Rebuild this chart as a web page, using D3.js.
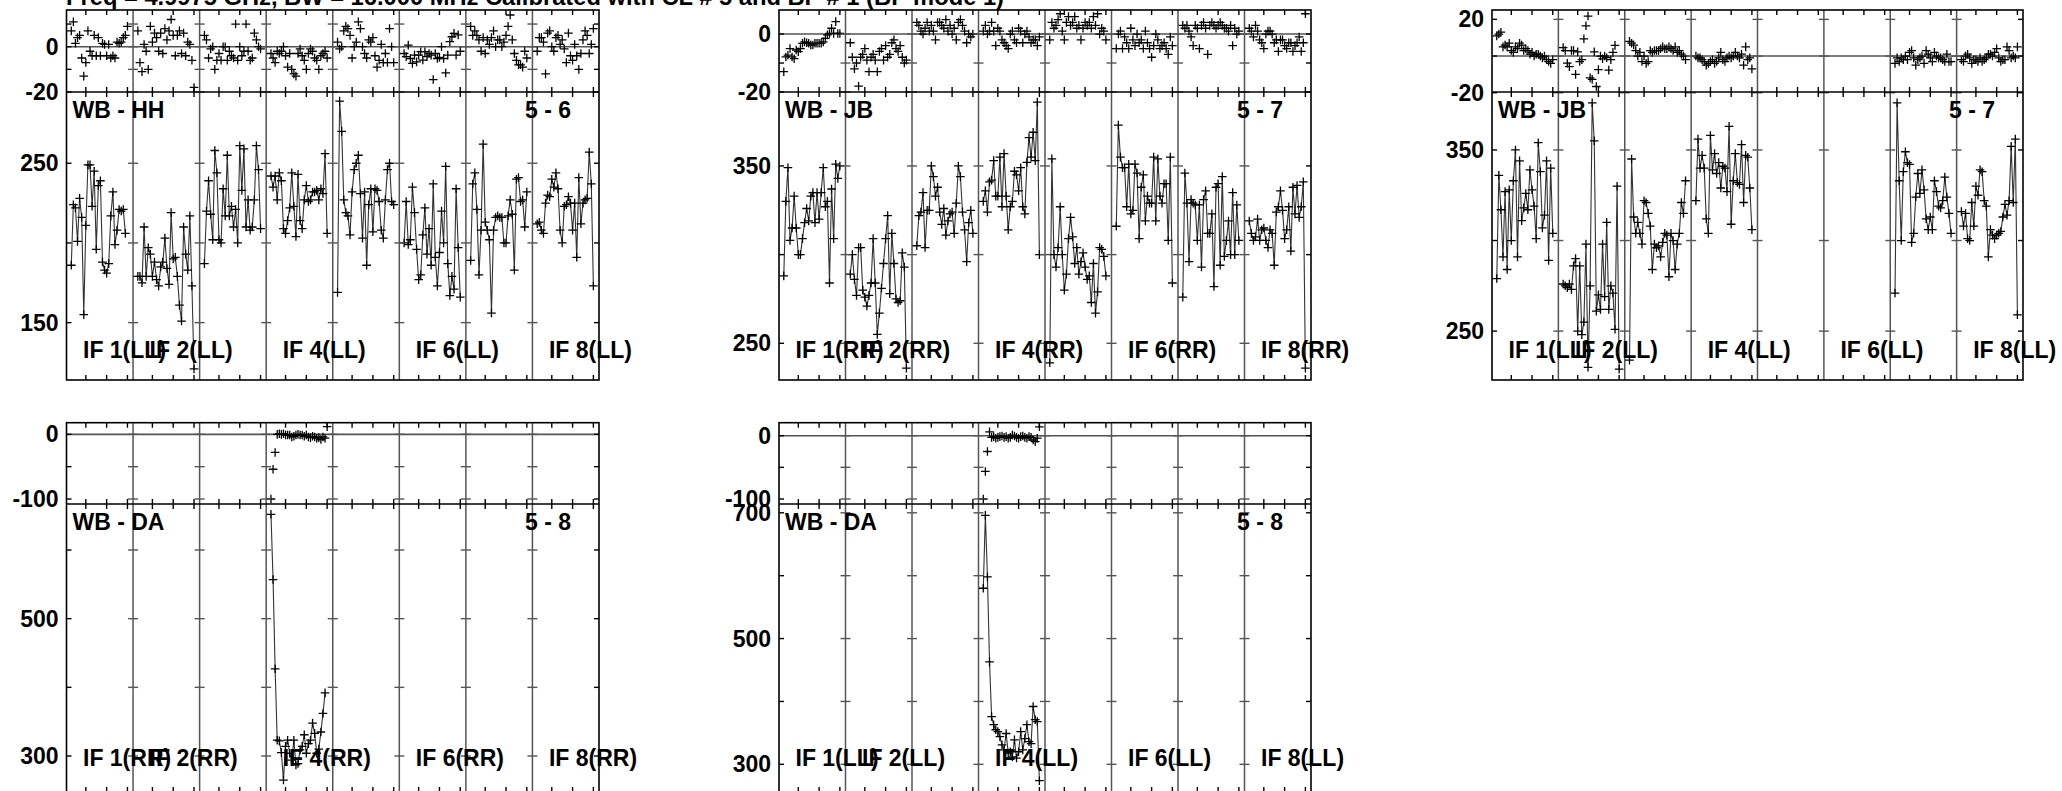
<!DOCTYPE html>
<html><head><meta charset="utf-8">
<script src="https://cdn.jsdelivr.net/npm/d3@7"></script>
<style>html,body{margin:0;padding:0;background:#fff;overflow:hidden}</style>
</head><body>
<script>
// ---------------- DATA ----------------
const titleText = "Freq = 4.9975 GHz, BW = 16.000 MHz   Calibrated with CL # 5 and BP # 1 (BP mode 1)";
const labeledIFs = [1, 2, 4, 6, 8];
const firstChannel = 3;
const channelTicks = [10, 20, 30];

// Panel WB - HH, 5 - 6 (LL)
const ampHH_LL = [
 [186,224,222,201,228,216,155,211,249,249,223,245,196,236,239,188,183,181,187,217,232,199,208,221,220,221,206],
 [179,179,175,210,179,197,193,179,188,177,173,185,188,203,184,174,219,190,191,179,161,151,210,193,183,217,173,121],
 [187,220,239,218,202,258,244,202,200,234,217,255,217,223,210,221,200,261,233,259,210,227,208,210,227,261,246,209],
 [242,235,242,227,244,239,209,206,214,222,244,223,204,243,214,209,227,236,226,227,232,232,233,227,234,231,256,206],
 [169,289,270,227,219,217,205,232,246,250,255,231,203,232,186,224,234,207,234,233,226,208,203,227,246,250,226,224],
 [200,226,199,202,235,219,196,177,180,205,222,193,209,186,237,191,173,194,220,200,248,187,167,179,171,234,197,166],
 [189,237,244,221,180,208,262,213,208,202,156,208,216,217,216,216,200,200,217,227,218,183,240,241,226,227,210,232],
 [212,213,208,206,225,230,229,240,235,244,234,208,200,223,224,229,225,208,225,191,241,212,225,227,228,257,237,173]
];
const phaseHH_LL = [
 [7,11,1.5,4,5,-5,-13,-7,7,-2,-4,5,-4,4,-4,1.5,1,-4,1,-5,-4,-5,2,1.5,2,4,5,9],
 [7,-7,-11,1,-2,-10,9,2,6,4,-2,6,-3,8,3,7,12,5,-4,5,7,-3,6,-4,2,1,-6,-18],
 [5,3,-5,-1,0,-10,-6,-3,-6,0,0,-6,-2,-4,-5,10,-6,0,-4,-2,10,-2,-6,-5,6,3,0,-1],
 [-3,-5,-7,-2,-3,-2,0,-4,-9,-3,-10,-12,-13,-3,-1,-4,-6,-10,-3,-1,-2,-5,-6,-10,-4,-3,-2,-5],
 [2,-1,0,7,9,8,5,-5,0,2,11,8,0,-3,-5,3,2,4,-4,-9,-6,1,-7,-3,-7,8,0,-7],
 [-3,-4.4,0.7,-5.2,-7.4,-3.7,-6.7,-3.7,-2.2,-5.9,-2.2,-4.4,-3,-3.7,-14.5,-3,-5.2,-4.7,0,-5.2,-11.6,-3.7,2.2,4.4,5.9,-3.7,5.2,-2],
 [9,5,7,5,3,-2,4,-3,3,1,4,7,0,3,3,0,2,5,9,14,3,-3,-6,-8,-8,-9,-2,-5],
 [-2,4,4,2,-12,6,7,0,-2,4,5,1,3,-1,-7,6,-4,-6,1,-4,-10,-3,3,7,5,-3,1,8]
];

// Panel WB - JB, 5 - 7 (RR)
const ampJB_RR = [
 [288,330,349,308,315,333,315,300,300,309,318,326,319,333,335,318,335,320,335,349,327,330,284,337,309,351,343,350],
 [289,300,286,277,304,304,280,276,271,277,284,309,284,255,267,281,295,309,322,278,312,295,275,273,274,301,293,236],
 [305,322,324,335,304,325,325,350,344,333,338,324,317,326,311,319,323,324,312,329,350,344,324,314,296,318,325,312],
 [330,336,324,341,342,353,333,333,355,327,357,333,314,327,330,347,345,336,349,327,323,352,366,355,369,353,386,300],
 [239,354,300,293,304,327,300,280,289,309,321,310,295,304,289,296,301,293,286,288,273,295,267,279,304,303,299,288],
 [316,373,355,349,349,327,351,323,325,351,346,309,338,345,319,333,329,329,355,319,354,333,329,340,340,308,355,284],
 [276,346,329,296,331,329,328,308,328,293,331,336,312,312,323,282,338,340,294,344,299,308,319,300,335,300,328,308],
 [319,312,308,310,320,308,314,315,308,304,314,312,294,324,327,336,325,309,314,327,302,338,323,339,321,327,341,236]
];
const phaseJB_RR = [
 [-13,-7.9,-7.3,-5,-7.9,-8.5,-5.5,-6.1,-5,-3.2,-2.7,-3,-3.2,-3.8,-3.8,-3.2,-3.2,-3.2,-3.2,-2.7,-1.5,-0.3,0.2,2,0.2,4.3,0.2,0.2],
 [-3,-8,-12,-10,-18,-8,-7,-5,-9,-13,-8,-7,-9,-13,-6,-5,-9,-4,-8,-7,-3,-2,-5,-6,-4,-8,-10,-9],
 [4,3,1,0,2,4,1,3,1,-2,4,4,3,2,5,1,3,0,2,-2,4,5,3,1,-3,0,-1,0],
 [1,3,0,1,4,1,-4,2,1,-2,-3,-4,-5,0,1,-2,-3,2,1,-3,0,1,-1,-3,-2,-2,-4,-1],
 [-2,4,2,3,5,7,1,-2,4,6,3,4,6,2,3,-2,2,4,3,4,2,6,3,7,0,2,1,-2],
 [-5,0,1,-5,-1,-3,-5,2,-2,-4,0,-3,-2,-5,1,-3,-5,-8,-4,0,-2,-5,-4,-3,-5,-7,-1,-4],
 [3,2,3,1,-1,-4,3,2,-5,3,4,2,-7,3,4,3,2,3,4,3,2,2,1,3,-4,2,0,1],
 [2,1,-1,3,1,-2,-3,-5,0,1,1,0,-3,-2,-6,-2,-2,-4,-5,-3,-3,-6,-4,-3,-1,-6,-3,7]
];

// Panel WB - JB, 5 - 7 (LL)
const ampJB_LL = [
 [279,336,317,291,327,284,328,300,333,350,291,344,311,318,326,317,339,328,319,301,354,338,307,314,344,289,340,304],
 [276,275,274,276,273,286,290,250,286,248,255,298,230,275,376,355,261,270,262,298,269,310,262,275,271,251,330,229],
 [234,345,313,304,310,304,298,322,321,315,308,284,298,296,297,291,299,304,303,280,304,300,284,298,304,321,315,333],
 [322,356,340,347,340,312,304,358,339,348,337,343,329,341,340,327,363,309,333,348,332,331,353,321,347,346,329,306],
 [],
 [],
 [271,376,333,300,338,349,343,342,299,304,324,337,326,339,328,312,306,313,306,333,327,319,318,322,335,324,315,304],
 [316,308,315,301,300,321,308,330,325,339,338,322,319,291,306,303,301,303,304,305,313,320,314,322,352,321,356,259]
];
const phaseJB_LL = [
 [11,12,13,5,6,5,7,3,2,5,4,7,6,3,4,3,1,2,0,1,1,0,-1,0,-2,-3,-4,-2],
 [4.6,3,-3.9,-5.8,3,3,-10,2.3,-3,-2,9.4,16.5,21.8,-11.9,-12.7,2.3,-16.6,-7.4,0,-1.5,0,-0.9,-7.7,-2,2,5.8],
 [8,7,6,3,0,2,-3,0,-4,-3,3,2,3,3,3,4,5,4,4,5,4,3,5,2,3,1,0,-2],
 [0,-1,-1,-2,-3,-5,-4,-3,-2,-4,-3,-1,2,-2,-3,-1,0,-1,0,2,0,-1,1,-5,5,-2,-1,-7],
 [],
 [],
 [-4,-1,-3,-1,-2,0,-2,2,3,-1,-5,-2,-1,0,-4,3,1,-1,-3,2,0,-1,-1,-2,-3,1,-3,-3],
 [-2,-3,0,1,-1,-4,-2,-2,-3,-1,-3,-2,-1,1,1,0,2,4,-1,-3,-2,-2,5,3,-1,0,-1,5]
];

// Panel WB - DA, 5 - 8 (RR) and (LL)
const ampDA_RR = [[],[],[],
 [652,557,427,323,322,305,265,314,323,304,294,323,287,289,309,314,331,304,318,323,348,333,304,310,335,362,392],
 [],[],[],[]];
const phaseDA_RR = [[],[],[],
 [-100,-54,-28,0,1,0,1,-1,-1,-1,-4,-3,-1,0,-1,-1,-3,-1,-4,-5,-3,-4,-6,-5,-8,-4,-6,12],
 [],[],[],[]];
const ampDA_LL = [[],[],[],
 [580,696,598,463,376,363,355,352,344,331,323,349,318,320,312,339,310,320,352,323,341,363,336,333,392,371,368,274],
 [],[],[],[]];
const phaseDA_LL = [[],[],[],
 [-100,-56.5,-25,6,-2.6,-1.5,-4,-2.6,-1.5,-0.5,-2.6,-1.5,-4,-2.6,1,-0.5,-2.6,-4,-1.5,-0.5,-2.6,-4,-1.5,-2.6,-6.8,-9.4,-4,14],
 [],[],[],[]];

// axis tick values and labels
const phaseTicksHH = [-20,-10,0,10], phaseLabelsHH = [0,-20];
const ampTicksHH = [150,200,250], ampLabelsHH = [250,150];
const phaseTicksJBR = [-20,-10,0], phaseLabelsJBR = [0,-20];
const ampTicksJBR = [250,300,350], ampLabelsJBR = [350,250];
const phaseTicksJBL = [-20,0,20], phaseLabelsJBL = [20,-20];
const ampTicksJBL = [250,300,350], ampLabelsJBL = [350,250];
const phaseTicksDA = [-100,-50,0], phaseLabelsDA = [0,-100];
const ampTicksDAR = [300,400,500,600], ampLabelsDAR = [500,300];
const ampTicksDAL = [300,400,500,600,700], ampLabelsDAL = [700,500,300];

// ---------------- DRAWING ----------------
const W = 2062, H = 791;
const FONT = "'Liberation Sans', Arial, Helvetica, sans-serif";
const FS = 23;
const svg = d3.select("body").append("svg").attr("width", W).attr("height", H)
  .style("display","block").style("background","#fff");

svg.append("text").attr("x", 66).attr("y", 4.5)
  .attr("font-family", FONT).attr("font-weight","bold").attr("font-size", FS)
  .attr("textLength", 938).attr("lengthAdjust","spacingAndGlyphs")
  .text(titleText);

const NIF = 8, CH = 32, X_OFF = 0.7;
let clipId = 0;

function drawPanel(cfg) {
  const g = svg.append("g");
  const xs = d3.scaleLinear().domain([X_OFF, NIF*CH + X_OFF]).range([cfg.x0, cfg.x1]);
  const yp = d3.scaleLinear().domain(cfg.phaseDom).range([cfg.yMid, cfg.yTop]);
  const ya = d3.scaleLinear().domain(cfg.ampDom).range([cfg.yBot, cfg.yMid]);
  const ifStart = i => xs(i*CH + X_OFF);

  // clips
  const cp = "cp" + (clipId++), ca = "ca" + (clipId++);
  const defs = g.append("defs");
  defs.append("clipPath").attr("id", cp).append("rect")
    .attr("x", cfg.x0).attr("y", cfg.yTop).attr("width", cfg.x1-cfg.x0).attr("height", cfg.yMid-cfg.yTop);
  defs.append("clipPath").attr("id", ca).append("rect")
    .attr("x", cfg.x0).attr("y", cfg.yMid).attr("width", cfg.x1-cfg.x0).attr("height", cfg.yBot-cfg.yMid);

  // zero phase line
  g.append("line").attr("x1", cfg.x0).attr("x2", cfg.x1)
    .attr("y1", yp(0)).attr("y2", yp(0)).attr("stroke", "#555").attr("stroke-width", 1.6);

  // dividers
  for (let j = 1; j < NIF; j++) {
    g.append("line").attr("x1", ifStart(j)).attr("x2", ifStart(j))
      .attr("y1", cfg.yTop).attr("y2", cfg.yBot).attr("stroke", "#555").attr("stroke-width", 1.5);
  }

  const plus = "M-4.3,0H4.3M0,-4.3V4.3";
  const lineGen = d3.line().x(d => xs(d.u)).y(d => ya(d.v));

  for (let i = 0; i < NIF; i++) {
    const amp = cfg.amp[i].map((v,k) => ({u: i*CH + firstChannel + k, v}));
    const ph = cfg.phase[i].map((v,k) => ({u: i*CH + firstChannel + k, v}));
    if (amp.length) {
      const ga = g.append("g").attr("clip-path", `url(#${ca})`);
      ga.append("path").datum(amp).attr("d", lineGen)
        .attr("fill","none").attr("stroke","#333").attr("stroke-width",1.1);
      ga.selectAll("path.m").data(amp).join("path").attr("class","m")
        .attr("d", plus).attr("transform", d => `translate(${xs(d.u)},${ya(d.v)})`)
        .attr("stroke","#000").attr("stroke-width",1.3).attr("fill","none");
    }
    if (ph.length) {
      const gp = g.append("g").attr("clip-path", `url(#${cp})`);
      gp.selectAll("path.m").data(ph).join("path").attr("class","m")
        .attr("d", plus).attr("transform", d => `translate(${xs(d.u)},${yp(d.v)})`)
        .attr("stroke","#000").attr("stroke-width",1.3).attr("fill","none");
    }
  }

  // y ticks (crosses on dividers, inward on borders)
  const TL = 5;
  function yTicks(vals, sc) {
    vals.forEach(v => {
      const y = sc(v);
      for (let j = 0; j <= NIF; j++) {
        const x = ifStart(j);
        const a = j === 0 ? x : x - TL, b = j === NIF ? x : x + TL;
        g.append("line").attr("x1", a).attr("x2", b).attr("y1", y).attr("y2", y)
          .attr("stroke", j===0||j===NIF ? "#000" : "#555").attr("stroke-width", 1.4);
      }
    });
  }
  yTicks(cfg.phaseTicks, yp);
  yTicks(cfg.ampTicks, ya);

  // x ticks
  for (let i = 0; i < NIF; i++) {
    channelTicks.forEach(c => {
      const x = xs(i*CH + c);
      [[cfg.yTop, cfg.yTop+TL], [cfg.yMid-TL, cfg.yMid+TL], [cfg.yBot-TL, cfg.yBot]].forEach(([a,b]) => {
        g.append("line").attr("x1", x).attr("x2", x).attr("y1", a).attr("y2", b)
          .attr("stroke","#000").attr("stroke-width",1.4);
      });
    });
  }

  // boxes
  g.append("rect").attr("x", cfg.x0).attr("y", cfg.yTop).attr("width", cfg.x1-cfg.x0)
    .attr("height", cfg.yBot-cfg.yTop).attr("fill","none").attr("stroke","#000").attr("stroke-width",1.6);
  g.append("line").attr("x1", cfg.x0).attr("x2", cfg.x1).attr("y1", cfg.yMid).attr("y2", cfg.yMid)
    .attr("stroke","#000").attr("stroke-width",1.6);

  // labels
  const txt = (x, y, s, anchor, base) => g.append("text").attr("x", x).attr("y", y)
    .attr("text-anchor", anchor).attr("dominant-baseline", base || "auto")
    .attr("font-family", FONT).attr("font-weight","bold").attr("font-size", FS).text(s);

  cfg.phaseLabels.forEach(v => txt(cfg.x0 - 8, yp(v), String(v), "end", "central"));
  cfg.ampLabels.forEach(v => txt(cfg.x0 - 8, ya(v), String(v), "end", "central"));
  txt(cfg.x0 + 6, cfg.yMid + 26, cfg.baseline, "start");
  txt(cfg.x1 - 28, cfg.yMid + 26, cfg.pair, "end");
  labeledIFs.forEach(n => txt(ifStart(n-1) + 16.5, cfg.yBot - cfg.ifLabelOff, `IF ${n}(${cfg.pol})`, "start"));
}

const topRow = {yTop: 10, yMid: 92, yBot: 380, ifLabelOff: 22};
const botRow = {yTop: 422.7, yMid: 504, yBot: 792, ifLabelOff: 26};

drawPanel(Object.assign({}, topRow, {x0: 66.5, x1: 599, baseline: "WB - HH", pair: "5 - 6", pol: "LL",
  phaseDom: [-20, 16.2], ampDom: [114, 294.7], amp: ampHH_LL, phase: phaseHH_LL,
  phaseTicks: phaseTicksHH, phaseLabels: phaseLabelsHH, ampTicks: ampTicksHH, ampLabels: ampLabelsHH}));
drawPanel(Object.assign({}, topRow, {x0: 779, x1: 1311, baseline: "WB - JB", pair: "5 - 7", pol: "RR",
  phaseDom: [-20, 8.3], ampDom: [229.3, 391.7], amp: ampJB_RR, phase: phaseJB_RR,
  phaseTicks: phaseTicksJBR, phaseLabels: phaseLabelsJBR, ampTicks: ampTicksJBR, ampLabels: ampLabelsJBR}));
drawPanel(Object.assign({}, topRow, {x0: 1492, x1: 2023, baseline: "WB - JB", pair: "5 - 7", pol: "LL",
  phaseDom: [-19.6, 25.1], ampDom: [223, 382], amp: ampJB_LL, phase: phaseJB_LL,
  phaseTicks: phaseTicksJBL, phaseLabels: phaseLabelsJBL, ampTicks: ampTicksJBL, ampLabels: ampLabelsJBL}));
drawPanel(Object.assign({}, botRow, {x0: 66.5, x1: 599, baseline: "WB - DA", pair: "5 - 8", pol: "RR",
  phaseDom: [-107.7, 18], ampDom: [247.6, 667], amp: ampDA_RR, phase: phaseDA_RR,
  phaseTicks: phaseTicksDA, phaseLabels: phaseLabelsDA, ampTicks: ampTicksDAR, ampLabels: ampLabelsDAR}));
drawPanel(Object.assign({}, botRow, {x0: 779, x1: 1311, baseline: "WB - DA", pair: "5 - 8", pol: "LL",
  phaseDom: [-107.9, 20.5], ampDom: [256, 714], amp: ampDA_LL, phase: phaseDA_LL,
  phaseTicks: phaseTicksDA, phaseLabels: phaseLabelsDA, ampTicks: ampTicksDAL, ampLabels: ampLabelsDAL}));
</script>
</body></html>
